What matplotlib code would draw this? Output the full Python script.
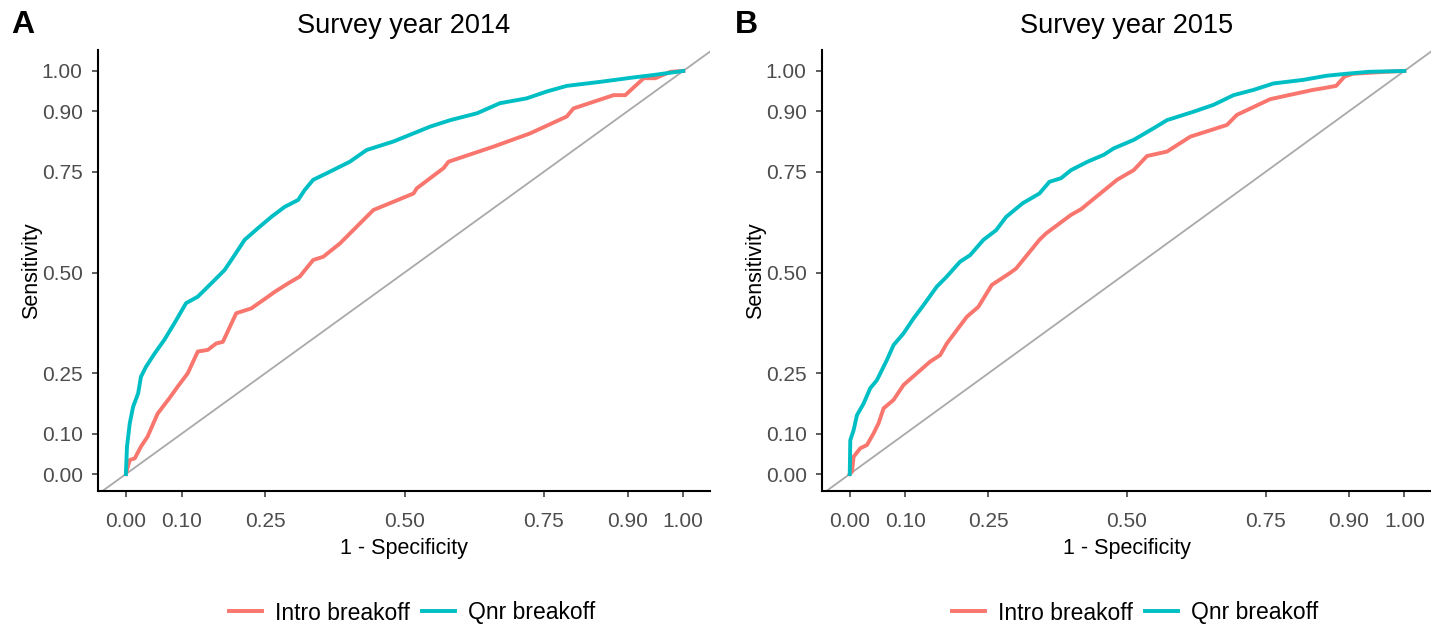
import matplotlib
matplotlib.use('Agg')
from matplotlib import pyplot as plt

plt.rcParams['font.family'] = ['Liberation Sans', 'DejaVu Sans']

# ROC points (1 - specificity, sensitivity)
a_qnr_fpr = [0, 0.002, 0.007, 0.013, 0.022, 0.027, 0.036, 0.052, 0.069, 0.087, 0.108, 0.129,
             0.159, 0.177, 0.195, 0.213, 0.237, 0.261, 0.285, 0.309, 0.321, 0.336, 0.360, 0.402,
             0.432, 0.480, 0.546, 0.582, 0.630, 0.671, 0.719, 0.755, 0.791, 0.851, 0.911, 0.947, 1.0]
a_qnr_tpr = [0, 0.068, 0.126, 0.167, 0.200, 0.241, 0.266, 0.300, 0.333, 0.374, 0.424, 0.440,
             0.481, 0.506, 0.543, 0.581, 0.610, 0.638, 0.663, 0.680, 0.705, 0.730, 0.746, 0.775,
             0.804, 0.825, 0.862, 0.878, 0.895, 0.920, 0.932, 0.949, 0.963, 0.973, 0.984, 0.990, 1.0]
a_intro_fpr = [0, 0.007, 0.016, 0.027, 0.039, 0.057, 0.078, 0.093, 0.111, 0.129, 0.147, 0.162,
               0.174, 0.198, 0.225, 0.255, 0.267, 0.291, 0.312, 0.336, 0.354, 0.384, 0.444, 0.516,
               0.522, 0.570, 0.579, 0.659, 0.725, 0.791, 0.803, 0.875, 0.896, 0.929, 0.950, 0.977, 1.0]
a_intro_tpr = [0, 0.035, 0.039, 0.068, 0.093, 0.150, 0.188, 0.217, 0.250, 0.304, 0.308, 0.324,
               0.328, 0.399, 0.411, 0.440, 0.452, 0.473, 0.490, 0.531, 0.539, 0.572, 0.655, 0.696,
               0.709, 0.759, 0.775, 0.812, 0.845, 0.887, 0.907, 0.940, 0.940, 0.982, 0.982, 0.998, 1.0]

b_qnr_fpr = [0, 0.001, 0.007, 0.013, 0.025, 0.037, 0.049, 0.067, 0.079, 0.097, 0.115, 0.133,
             0.157, 0.175, 0.199, 0.217, 0.241, 0.264, 0.282, 0.312, 0.342, 0.360, 0.381, 0.399,
             0.429, 0.458, 0.476, 0.512, 0.548, 0.572, 0.620, 0.656, 0.692, 0.728, 0.764, 0.818,
             0.859, 0.895, 0.937, 1.0]
b_qnr_tpr = [0, 0.084, 0.109, 0.146, 0.175, 0.213, 0.233, 0.283, 0.320, 0.349, 0.386, 0.419,
             0.465, 0.490, 0.527, 0.543, 0.581, 0.605, 0.638, 0.672, 0.696, 0.725, 0.734, 0.754,
             0.775, 0.792, 0.808, 0.829, 0.858, 0.878, 0.899, 0.916, 0.940, 0.953, 0.969, 0.978,
             0.988, 0.993, 0.998, 1.0]
b_intro_fpr = [0, 0.004, 0.007, 0.019, 0.031, 0.043, 0.052, 0.061, 0.079, 0.097, 0.121, 0.145,
               0.163, 0.175, 0.211, 0.232, 0.256, 0.288, 0.300, 0.342, 0.354, 0.399, 0.417, 0.482,
               0.512, 0.536, 0.572, 0.614, 0.680, 0.698, 0.758, 0.835, 0.853, 0.877, 0.892, 0.907,
               0.967, 1.0]
b_intro_tpr = [0, 0.006, 0.043, 0.064, 0.072, 0.101, 0.126, 0.163, 0.184, 0.221, 0.250, 0.279,
               0.295, 0.324, 0.390, 0.415, 0.469, 0.498, 0.510, 0.581, 0.597, 0.643, 0.657, 0.730,
               0.754, 0.789, 0.800, 0.837, 0.866, 0.891, 0.930, 0.953, 0.957, 0.963, 0.986, 0.993,
               0.998, 1.0]

ticks = [0, 0.10, 0.25, 0.50, 0.75, 0.90, 1.00]
tick_labels = ['0.00', '0.10', '0.25', '0.50', '0.75', '0.90', '1.00']
series_names = ['Intro breakoff', 'Qnr breakoff']
colors = ['#F8766D', '#00BFC4']
titles = ['Survey year 2014', 'Survey year 2015']
letters = ['A', 'B']

W, H = 1431, 629
fig = plt.figure(figsize=(W / 100, H / 100), dpi=100)


def panel(left_px, right_px, intro, qnr, title, letter, legend_x):
    ax = fig.add_axes([left_px / W, 1 - 491 / H, (right_px - left_px) / W, 441 / H])
    ax.plot([-0.1, 1.1], [-0.1, 1.1], color='#A9A9A9', lw=1.3, zorder=1)
    l1, = ax.plot(intro[0], intro[1], color=colors[0], lw=2.8, label=series_names[0])
    l2, = ax.plot(qnr[0], qnr[1], color=colors[1], lw=2.8, label=series_names[1])
    ax.set_xlim(-0.05, 1.048)
    ax.set_ylim(-0.042, 1.052)
    ax.set_xticks(ticks)
    ax.set_xticklabels(tick_labels)
    ax.set_yticks(ticks)
    ax.set_yticklabels(tick_labels)
    ax.tick_params(labelsize=15, labelcolor='#4D4D4D', color='#333333',
                   length=4, width=1.1)
    ax.tick_params(axis='x', pad=11)
    ax.tick_params(axis='y', pad=7)
    for s in ['top', 'right']:
        ax.spines[s].set_visible(False)
    for s in ['left', 'bottom']:
        ax.spines[s].set_linewidth(1.5)
    ax.set_xlabel('1 - Specificity', fontsize=15.5, labelpad=5.5)
    ax.set_ylabel('Sensitivity', fontsize=15.5, labelpad=0)
    fig.text((left_px + right_px) / 2 / W, 1 - 26 / H, title, fontsize=19.5,
             ha='center', va='center')
    fig.text((left_px - 87) / W, 1 - 25 / H, letter, fontsize=23, fontweight='bold',
             ha='left', va='center')
    fig.legend(handles=[l1, l2], loc='center', bbox_to_anchor=(legend_x / W, 1 - 613 / H),
               ncol=2, frameon=False, fontsize=16.5, handlelength=1.45,
               handletextpad=0.55, columnspacing=0.55)
    return ax


panel(98, 710, (a_intro_fpr, a_intro_tpr), (a_qnr_fpr, a_qnr_tpr), titles[0], letters[0], 412)
panel(822, 1431, (b_intro_fpr, b_intro_tpr), (b_qnr_fpr, b_qnr_tpr), titles[1], letters[1], 1135)

fig.savefig('out.png', dpi=100)
